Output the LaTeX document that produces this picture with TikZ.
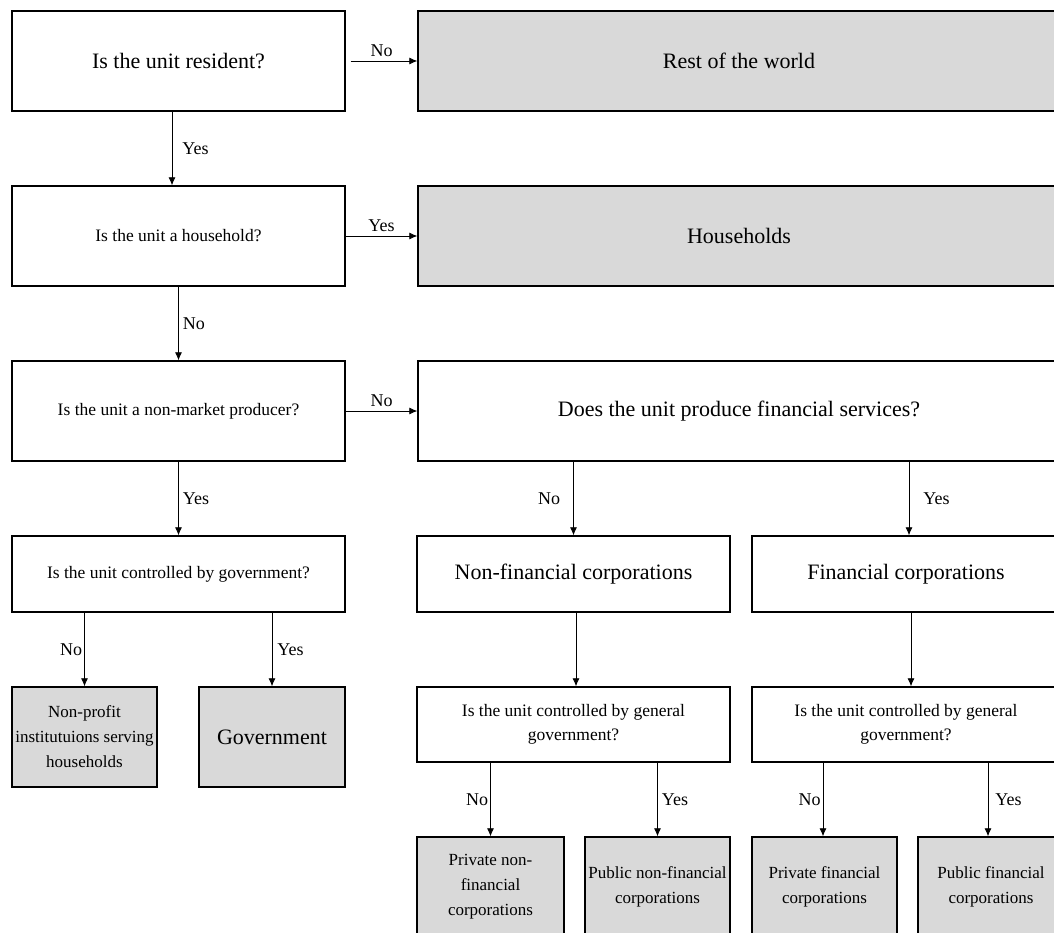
\documentclass[tikz,border=0pt]{standalone}
\usepackage{fontspec}
\setmainfont{Liberation Serif}
\usetikzlibrary{arrows.meta}
\tikzset{
  box/.style={draw,line width=1.4pt,align=center,inner sep=0pt},
  sector/.style={box,fill=gray!30},
  big/.style={font=\fontsize{22}{26}\selectfont},
  small/.style={font=\fontsize{17.5}{24}\selectfont},
  leaf/.style={sector,font=\fontsize{17}{25}\selectfont,minimum width=145pt,minimum height=100pt},
  lbl/.style={font=\fontsize{18}{20}\selectfont,inner sep=1pt},
  arr/.style={line width=0.8pt,-{Latex[length=8pt,width=7pt]}}
}
\begin{document}
\begin{tikzpicture}[x=1pt,y=-1pt]
\useasboundingbox (0,0) rectangle (1054,933);
\node[box,big,minimum width=333pt,minimum height=100pt] (resident) at (178.5,61) {Is the unit resident?};
\node[sector,big,minimum width=642pt,minimum height=100pt] (world) at (739,61) {Rest of the world};
\node[box,small,minimum width=333pt,minimum height=100pt] (household) at (178.5,236) {Is the unit a household?};
\node[sector,big,minimum width=642pt,minimum height=100pt] (households) at (739,236) {Households};
\node[box,small,minimum width=333pt,minimum height=100pt] (nonmarket) at (178.5,411) {Is the unit a non-market producer?};
\node[box,big,minimum width=642pt,minimum height=100pt] (finserv) at (739,411) {Does the unit produce financial services?};
\node[box,small,minimum width=333pt,minimum height=76pt] (govctrl) at (178.5,574) {Is the unit controlled by government?};
\node[box,big,minimum width=313pt,minimum height=76pt] (nfc) at (573.5,574) {Non-financial corporations};
\node[box,big,minimum width=308pt,minimum height=76pt] (fc) at (906,574) {Financial corporations};
\node[leaf] (npish) at (84.5,737) {Non-profit\\institutuions serving\\households};
\node[sector,big,minimum width=146pt,minimum height=100pt] (gov) at (272,737) {Government};
\node[box,small,minimum width=313pt,minimum height=75pt] (nfcgov) at (573.5,724.5) {Is the unit controlled by general\\government?};
\node[box,small,minimum width=308pt,minimum height=75pt] (fcgov) at (906,724.5) {Is the unit controlled by general\\government?};
\node[leaf,minimum width=147pt] (privnfc) at (490.5,887) {Private non-\\financial\\corporations};
\node[leaf] (pubnfc) at (657.5,887) {Public non-financial\\corporations};
\node[leaf] (privfc) at (824.5,887) {Private financial\\corporations};
\node[leaf,minimum width=146pt] (pubfc) at (991,887) {Public financial\\corporations};
\draw[arr,shorten <=5pt] (resident) -- node[lbl,above=3pt] {No} (world);
\draw[arr] ([xshift=-6.5pt]resident.south) -- node[lbl,right=9pt] {Yes} ([xshift=-6.5pt]household.north);
\draw[arr] (household) -- node[lbl,above=3pt] {Yes} (households);
\draw[arr] (household) -- node[lbl,right=3pt] {No} (nonmarket);
\draw[arr] (nonmarket) -- node[lbl,above=3pt] {No} (finserv);
\draw[arr] (nonmarket) -- node[lbl,right=3pt] {Yes} (govctrl);
\draw[arr] (govctrl.south -| npish) -- node[lbl,left=1pt] {No} (npish);
\draw[arr] (govctrl.south -| gov) -- node[lbl,right=4pt] {Yes} (gov);
\draw[arr] (finserv.south -| nfc) -- node[lbl,left=12pt] {No} (nfc);
\draw[arr] ([xshift=3pt]finserv.south -| fc) -- node[lbl,right=13pt] {Yes} ([xshift=3pt]fc.north);
\draw[arr] ([xshift=2.5pt]nfc.south) -- ([xshift=2.5pt]nfcgov.north);
\draw[arr] ([xshift=5pt]fc.south) -- ([xshift=5pt]fcgov.north);
\draw[arr] (nfcgov.south -| privnfc) -- node[lbl,left=1pt] {No} (privnfc);
\draw[arr] (nfcgov.south -| pubnfc) -- node[lbl,right=3pt] {Yes} (pubnfc);
\draw[arr] ([xshift=-1.5pt]fcgov.south -| privfc) -- node[lbl,left=1pt] {No} ([xshift=-1.5pt]privfc.north);
\draw[arr] ([xshift=-3pt]fcgov.south -| pubfc) -- node[lbl,right=6pt] {Yes} ([xshift=-3pt]pubfc.north);
\end{tikzpicture}
\end{document}
